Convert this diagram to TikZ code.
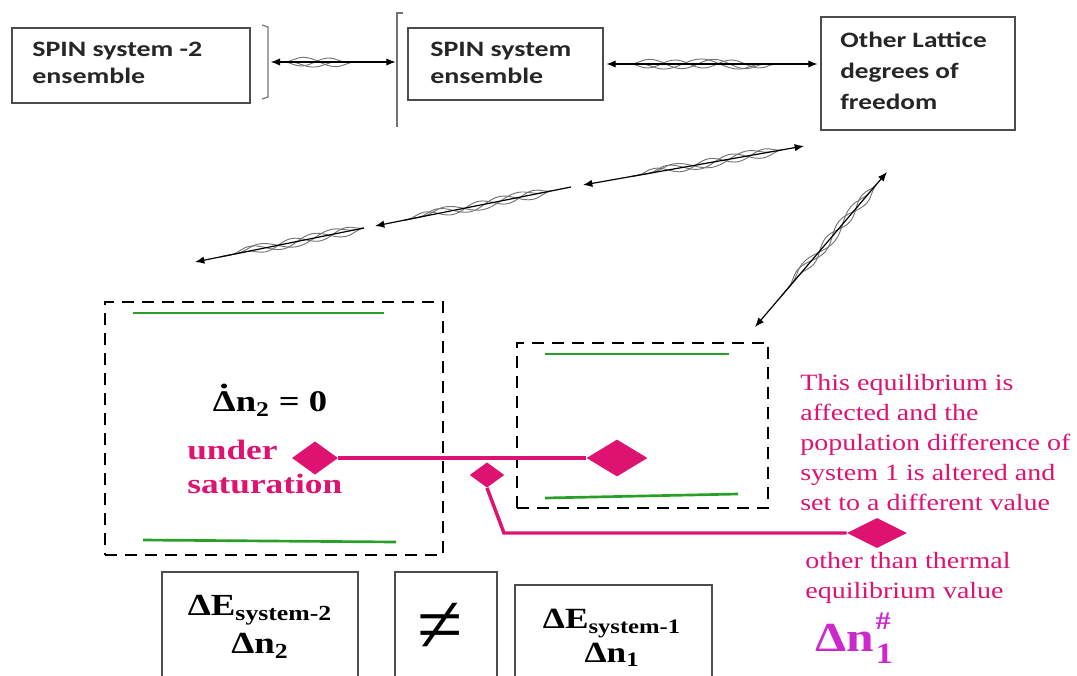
\documentclass[tikz,border=0pt]{standalone}
\usepackage{fontspec}
\setmainfont{Liberation Serif}
\newfontfamily\boxfont{Carlito}
\usetikzlibrary{decorations.pathmorphing,arrows.meta,shapes.geometric,calc}
\definecolor{mag}{RGB}{222,18,112}
\definecolor{pur}{RGB}{204,40,204}
\definecolor{grn}{RGB}{40,160,40}
\definecolor{wavec}{RGB}{115,115,115}
\newcommand{\dDelta}{\ooalign{Δ\cr\hidewidth\raisebox{0.78em}{.}\hidewidth\cr}}
\newcommand{\strands}[4]{%
  \draw[wavy,decoration={snake,amplitude=3.5pt,segment length=48pt}] ($(#1)!#3!(#2)$) -- ($(#1)!#4!(#2)$);
  \draw[wavy,decoration={snake,amplitude=3pt,segment length=42pt,mirror}] ($(#1)!#3!(#2)$) -- ($(#1)!#4!(#2)$);
  \draw[wavy,decoration={snake,amplitude=3.8pt,segment length=56pt,mirror}] ($(#1)!#3+0.05!(#2)$) -- ($(#1)!#4!(#2)$);
}
\begin{document}
\begin{tikzpicture}[x=0.75pt,y=-0.75pt,
  box/.style={draw=black!70,line width=1.1pt,inner sep=0pt},
  dbox/.style={draw=black,line width=1.8pt,dash pattern=on 9pt off 6pt,inner sep=0pt},
  bt/.style={font=\boxfont\bfseries\fontsize{16.5pt}{20pt}\selectfont,align=left,inner sep=0pt,anchor=west,text=black!85},
  st/.style={font=\bfseries\fontsize{23pt}{28pt}\selectfont,align=center,xscale=1.2,inner sep=0pt},
  mt/.style={font=\fontsize{17.5pt}{22.5pt}\selectfont,align=left,xscale=1.2,inner sep=0pt,anchor=west,text=mag},
  conn/.style={line width=0.9pt,black,{Latex[length=7pt,width=5.5pt]}-{Latex[length=7pt,width=5.5pt]}},
  conr/.style={line width=0.9pt,black,-{Latex[length=7pt,width=5.5pt]}},
  wavy/.style={draw=wavec,line width=0.7pt,decorate},
  bracket/.style={draw=black!55,line width=0.9pt},
  gline/.style={draw=grn,line width=2pt},
  mline/.style={draw=mag,line width=2.6pt},
  dia/.style={diamond,fill=mag,inner sep=0pt}
]
\useasboundingbox (0,0) rectangle (1077,675);
\clip (0,0) rectangle (1077,675);

% top boxes
\node[box,minimum width=178.5pt,minimum height=56.25pt] (b1) at (131,65.5) {};
\node[bt,xscale=1.27] (t1) at (32,63) {SPIN system -2\\ensemble};
\node[box,minimum width=146.25pt,minimum height=54pt] (b2) at (505.5,64) {};
\node[bt,xscale=1.27] (t2) at (430,63) {SPIN system\\ensemble};
\node[box,minimum width=145.5pt,minimum height=84.75pt] (b3) at (918,73.5) {};
\node[bt,font=\boxfont\bfseries\fontsize{16.5pt}{23pt}\selectfont,xscale=1.24] (t3) at (840,71) {Other Lattice\\degrees of\\freedom};

% brackets
\draw[bracket] (262,25) -- (268,27) -- (268,97) -- (262,99);
\draw[bracket] (403,13) -- (397,13) -- (397,127);
\coordinate (br1) at (268,62);
\coordinate (br2) at (397,62);

% horizontal connectors
\strands{br1}{br2}{0.12}{0.82}
\draw[conn,shorten <=2pt,shorten >=1pt] (br1) -- (br2);
\coordinate (h2) at (b2.east);
\coordinate (h3) at (b2.east -| b3.west);
\strands{h2}{h3}{0.12}{0.82}
\draw[conn,shorten >=2pt,shorten <=2pt] (h2) -- (h3);

% diagonal chain
\coordinate (d0) at (804,146);
\coordinate (d1) at (583,185);
\coordinate (d1b) at (571,187);
\coordinate (d2) at (375,226);
\coordinate (d2b) at (364,228);
\coordinate (d3) at (195,262);
\strands{d0}{d1}{0.1}{0.78}
\strands{d1b}{d2}{0.1}{0.85}
\strands{d2b}{d3}{0.0}{0.85}
\draw[conn] (d0) -- (d1);
\draw[conr] (d1b) -- (d2);
\draw[conr] (d2b) -- (d3);

\coordinate (e0) at (887,172);
\coordinate (e1) at (755,327);
\strands{e0}{e1}{0.08}{0.8}
\draw[conn] (e0) -- (e1);

% dashed boxes
\node[dbox,minimum width=253.5pt,minimum height=189.75pt] (L) at (274,428.5) {};
\node[dbox,minimum width=188.25pt,minimum height=123.75pt] (R) at (642.5,425.5) {};
\draw[gline] (133,313) -- (384,313);
\draw[gline] (143,540) -- (396,542);
\draw[gline] (545,354) -- (729,354);
\draw[gline] (545,498) -- (738,494);

\node[font=\bfseries\fontsize{22.5pt}{24pt}\selectfont,xscale=1.22,inner sep=0pt] (dn2) at (270,404) {\dDelta n\textsubscript{2} = 0};
\node[font=\bfseries\fontsize{21pt}{26pt}\selectfont,align=left,xscale=1.26,inner sep=0pt,anchor=west,text=mag] (us) at (187,467) {under\\saturation};

% magenta connectors
\node[dia,minimum width=34.5pt,minimum height=25pt] (m1) at (315,458) {};
\node[dia,minimum width=45.75pt,minimum height=27.75pt] (m2) at (617,458) {};
\node[dia,minimum width=26pt,minimum height=19pt] (m3) at (487,475) {};
\node[dia,minimum width=45pt,minimum height=22.5pt] (m4) at (877,533) {};
\draw[mline] (m1.east) -- (m2.west);
\coordinate (k1) at (504,533);
\draw[mline] (m3.south) -- (k1) -- (m4.west);

% right texts
\node[mt] (eq) at (800,443) {This equilibrium is\\affected and the\\population difference of\\system 1 is altered and\\set to a different value};
\node[mt] (oth) at (805,578) {other than thermal\\equilibrium value};
\node[font=\bfseries\fontsize{31pt}{34pt}\selectfont,xscale=1.2,inner sep=0pt,anchor=west,text=pur] (dn1) at (815,638) {Δn\makebox[0pt][l]{\hspace{1pt}\raisebox{0.55em}{\fontsize{19pt}{20pt}\selectfont\#}}\hspace{1pt}\raisebox{-0.28em}{\fontsize{22pt}{22pt}\selectfont 1}};

% bottom boxes
\node[box,minimum width=147pt,minimum height=96pt] (bA) at (260,636) {};
\node[box,minimum width=76.5pt,minimum height=96pt] (bB) at (446,636) {};
\node[box,minimum width=147.75pt,minimum height=86.25pt] (bC) at (613.5,642.5) {};
\node[st] (tA) at (260,627) {ΔE\textsubscript{system-2}\\Δn\textsubscript{2}};
\node[font=\fontsize{62pt}{64pt}\selectfont,inner sep=0pt] (ne) at (440,628) {≠};
\node[st,font=\bfseries\fontsize{22pt}{25pt}\selectfont] (tC) at (612,638) {ΔE\textsubscript{system-1}\\Δn\textsubscript{1}};
\end{tikzpicture}
\end{document}
